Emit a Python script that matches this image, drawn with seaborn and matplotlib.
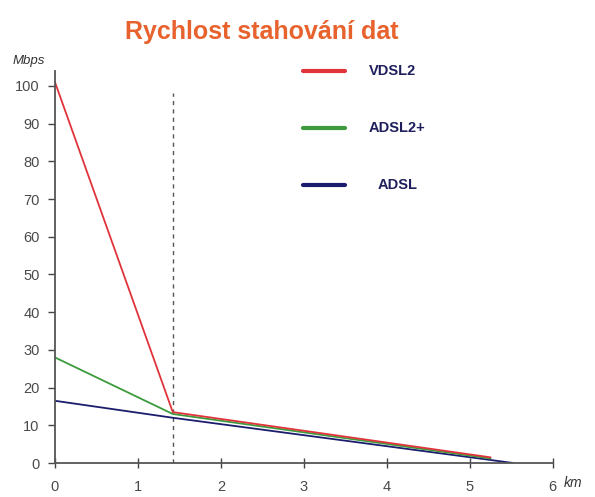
import matplotlib.pyplot as plt
import seaborn as sns
import pandas as pd

# data
series = ["VDSL2", "ADSL2+", "ADSL"]
vdsl2_km = [0, 1.42, 5.25]
vdsl2_mbps = [101, 13.5, 1.5]
adsl2p_km = [0, 1.42, 5.25]
adsl2p_mbps = [28, 13, 1.2]
adsl_km = [0, 1.42, 5.25, 5.52]
adsl_mbps = [16.5, 12, 0.8, 0]
x_ticks = [0, 1, 2, 3, 4, 5, 6]
y_ticks = [0, 10, 20, 30, 40, 50, 60, 70, 80, 90, 100]
cutoff_km = 1.42

rows = []
for name, xs, ys in zip(series, [vdsl2_km, adsl2p_km, adsl_km],
                        [vdsl2_mbps, adsl2p_mbps, adsl_mbps]):
    for x, y in zip(xs, ys):
        rows.append({"km": x, "Mbps": y, "typ": name})
df = pd.DataFrame(rows)

palette = {"VDSL2": "#e0333a", "ADSL2+": "#3c9a3c", "ADSL": "#1c1c6e"}

sns.set_style("white")
plt.rcParams["font.family"] = ["Liberation Sans", "DejaVu Sans"]
fig = plt.figure(figsize=(5.95, 4.97), dpi=100)
ax = fig.add_axes([0.0924, 0.0684, 0.8366, 0.789])

# dashed marker at the VDSL2 range limit
ax.plot([cutoff_km, cutoff_km], [0, 98], color="#555555", lw=1, ls=(0, (3, 3)))

sns.lineplot(data=df, x="km", y="Mbps", hue="typ", palette=palette,
             sort=False, estimator=None, lw=1.3, ax=ax, legend=False,
             hue_order=["ADSL", "ADSL2+", "VDSL2"])

ax.set_xlim(0, 6)
ax.set_ylim(0, 104)
ax.set_xticks(x_ticks)
ax.set_yticks(y_ticks)
ax.set_xlabel("")
ax.set_ylabel("")
ax.tick_params(axis="both", length=5, width=1, color="#444444",
               labelcolor="#4a4a4a", labelsize=10.5, left=True, bottom=True)
ax.tick_params(axis="x", direction="inout", length=7, pad=9)
ax.tick_params(axis="y", direction="out", pad=6)
for side in ["top", "right"]:
    ax.spines[side].set_visible(False)
for side in ["left", "bottom"]:
    ax.spines[side].set_color("#555555")
    ax.spines[side].set_linewidth(1.3)

# unit labels
fig.text(0.022, 0.872, "Mbps", fontsize=9.5, style="italic", color="#333333")
fig.text(0.948, 0.02, "km", fontsize=10, style="italic", color="#333333")

fig.text(0.44, 0.922, "Rychlost stahování dat", fontsize=18, fontweight="bold",
         color="#e8622e", ha="center")

# legend drawn by hand
leg_y = [0.857, 0.742, 0.628]
for name, y in zip(series, leg_y):
    fig.add_artist(plt.Line2D([0.51, 0.58], [y, y], color=palette[name], lw=3,
                              transform=fig.transFigure))
    fig.text(0.62 if name != "ADSL" else 0.634, y, name, fontsize=10.5,
             fontweight="bold", color="#1f1f5c", va="center")

fig.savefig("out.png", dpi=100)
